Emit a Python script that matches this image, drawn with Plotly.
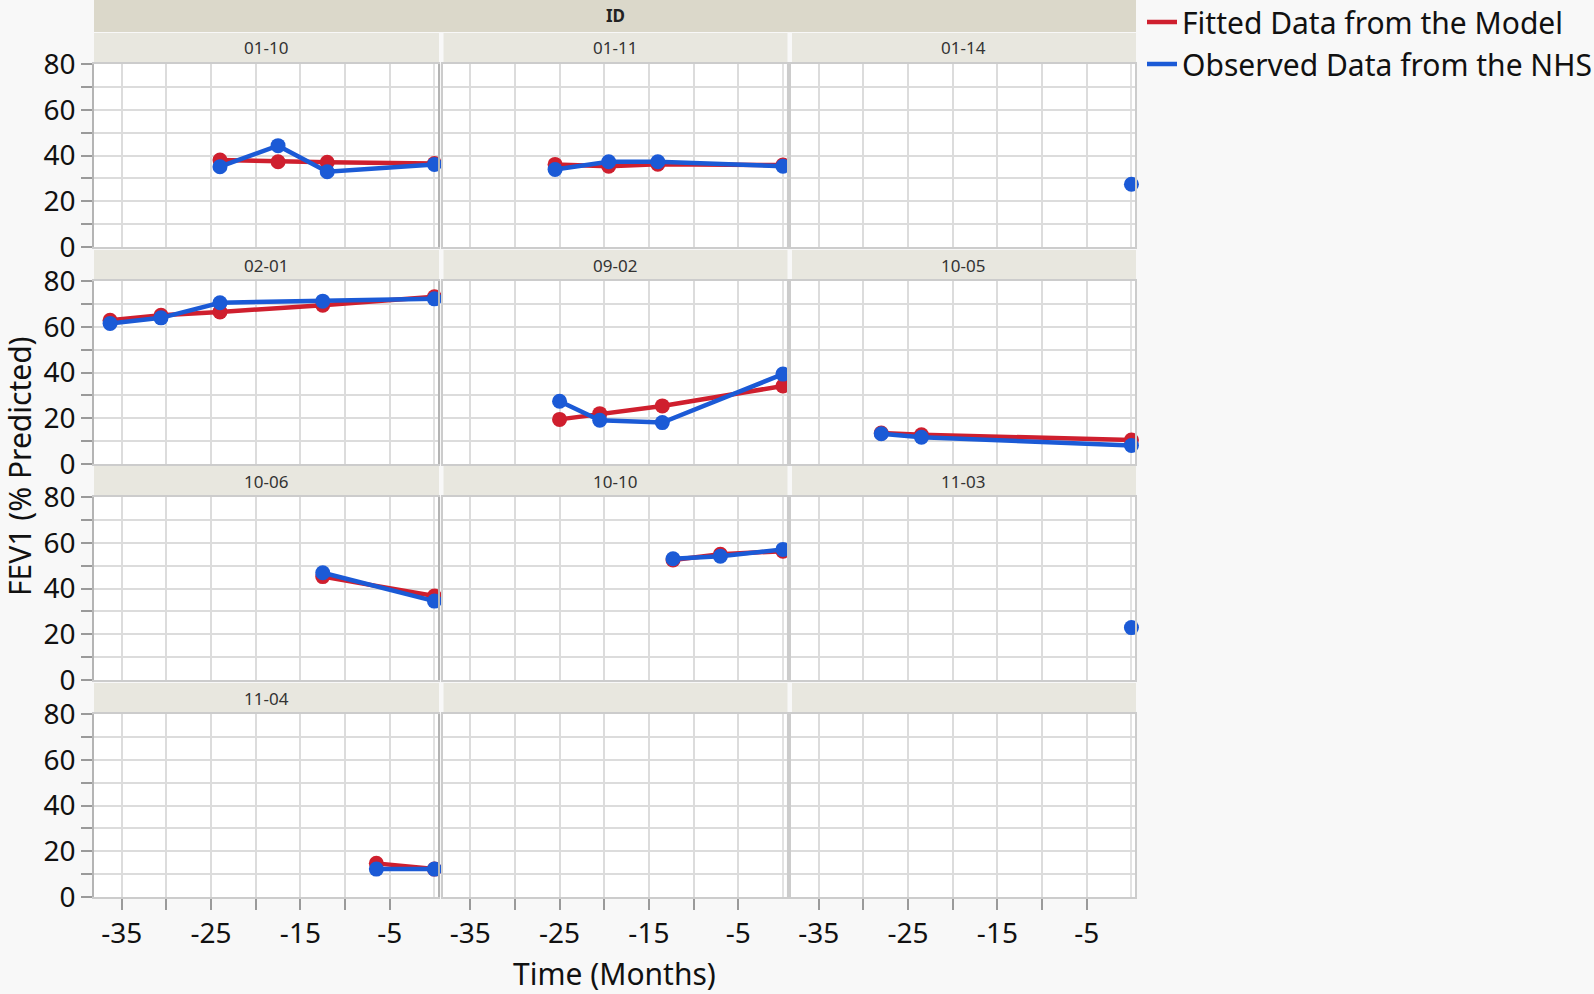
import plotly.graph_objects as go
from plotly.subplots import make_subplots

# ---------------- data ----------------
panel_ids = ["01-10", "01-11", "01-14", "02-01", "09-02", "10-05",
             "10-06", "10-10", "11-03", "11-04"]
times = [
    [-24, -17.5, -12, 0],
    [-25.5, -19.5, -14, 0],
    [0],
    [-36.3, -30.6, -24, -12.5, 0],
    [-25, -20.5, -13.5, 0],
    [-28, -23.5, 0],
    [-12.5, 0],
    [-12.3, -7, 0],
    [0],
    [-6.5, 0],
]
fitted = [
    [38.0, 37.3, 37.0, 36.5],
    [36.1, 35.3, 36.2, 35.8],
    [None],
    [62.8, 65.0, 66.5, 69.4, 73.1],
    [19.5, 22.0, 25.4, 34.1],
    [13.5, 12.8, 10.5],
    [45.2, 36.7],
    [52.5, 55.0, 56.3],
    [None],
    [14.7, 12.2],
]
observed = [
    [35.1, 44.3, 32.9, 36.1],
    [33.9, 37.3, 37.3, 35.3],
    [27.4],
    [61.4, 63.9, 70.5, 71.2, 72.2],
    [27.4, 19.1, 18.1, 39.3],
    [13.2, 11.7, 8.1],
    [46.9, 34.5],
    [53.0, 54.1, 57.1],
    [22.9],
    [12.2, 12.2],
]
x_tick_vals = [-35, -30, -25, -20, -15, -10, -5]
x_tick_text = ["-35", "", "-25", "", "-15", "", "-5"]
y_tick_vals = [0, 10, 20, 30, 40, 50, 60, 70, 80]
y_tick_text = ["0", "", "20", "", "40", "", "60", "", "80"]
series_names = ["Fitted Data from the Model", "Observed Data from the NHS"]

# ---------------- styling ----------------
W, H = 1594, 994
RED = "#cf1f2e"
BLUE = "#1b5ad6"
GRID = "#dcdcdc"
FONT = "Noto Sans"
col_px = [(94, 438), (442.5, 786.5), (791, 1135)]
row_px = [(64, 247), (281, 464), (497, 680), (714, 897)]


def px_x(p):
    return p / W


def px_y(p):
    return 1 - p / H


fig = make_subplots(rows=4, cols=3)

for i, pid in enumerate(panel_ids):
    r, c = i // 3 + 1, i % 3 + 1
    if any(v is not None for v in fitted[i]):
        fig.add_trace(go.Scatter(
            x=times[i], y=fitted[i], mode="lines+markers",
            line=dict(color=RED, width=4.5), marker=dict(color=RED, size=15),
            showlegend=False, cliponaxis=False, name=series_names[0]), row=r, col=c)
    fig.add_trace(go.Scatter(
        x=times[i], y=observed[i], mode="lines+markers",
        line=dict(color=BLUE, width=4.5), marker=dict(color=BLUE, size=15),
        showlegend=False, cliponaxis=False, name=series_names[1]), row=r, col=c)

# empty panels still get their axes drawn
for c in (2, 3):
    fig.add_trace(go.Scatter(x=[None], y=[None], mode="markers",
                             showlegend=False, hoverinfo="skip"), row=4, col=c)

# legend-only traces
for name, color in zip(series_names, [RED, BLUE]):
    fig.add_trace(go.Scatter(x=[None], y=[None], mode="lines",
                             line=dict(color=color, width=4.5), name=name,
                             showlegend=True), row=1, col=1)

shapes = []
annotations = []
for r in range(4):
    for c in range(3):
        idx = r * 3 + c + 1
        xa = "xaxis" if idx == 1 else f"xaxis{idx}"
        ya = "yaxis" if idx == 1 else f"yaxis{idx}"
        x0, x1 = col_px[c]
        y0, y1 = row_px[r]
        fig.layout[xa].update(
            domain=[px_x(x0), px_x(x1)], range=[-38.1, 0.4], automargin=False,
            tickmode="array", tickvals=x_tick_vals, ticktext=x_tick_text,
            showgrid=True, gridcolor=GRID, gridwidth=2, zeroline=False,
            showline=True, linecolor="#cccccc", linewidth=1.5, mirror=True,
            minor=dict(tickmode="array", tickvals=[0], showgrid=True,
                       gridcolor="#e2e2e2", gridwidth=1.5, ticks=""),
            ticks="outside" if r == 3 else "", ticklen=11, tickcolor="#9a9a9a",
            tickwidth=1.5, showticklabels=(r == 3),
            tickfont=dict(family=FONT, size=28, color="#111"),
        )
        fig.layout[ya].update(
            domain=[px_y(y1), px_y(y0)], range=[0, 80], automargin=False,
            tickmode="array", tickvals=y_tick_vals, ticktext=y_tick_text,
            showgrid=True, gridcolor=GRID, gridwidth=2, zeroline=False,
            showline=True, linecolor="#b4b4b4" if c == 0 else "#cccccc",
            linewidth=1.5, mirror=True,
            ticks="outside" if c == 0 else "", ticklen=11, tickcolor="#9a9a9a",
            tickwidth=1.5, showticklabels=(c == 0),
            tickfont=dict(family=FONT, size=28, color="#111"),
        )
        # strip above each panel
        sx0 = x0 + (0 if c == 0 else 1)
        shapes.append(dict(type="rect", xref="paper", yref="paper",
                           x0=px_x(sx0), x1=px_x(x1 + 1), y0=px_y(y0 - 1), y1=px_y(y0 - 31),
                           fillcolor="#e8e7df", line=dict(width=0), layer="below"))
        lab_i = r * 3 + c
        if lab_i < len(panel_ids):
            annotations.append(dict(
                text=panel_ids[lab_i], xref="paper", yref="paper",
                x=px_x((x0 + x1) / 2), y=px_y(y0 - 16), showarrow=False,
                xanchor="center", yanchor="middle",
                font=dict(family=FONT, size=17, color="#333")))

# top "ID" strip
shapes.append(dict(type="rect", xref="paper", yref="paper",
                   x0=px_x(94), x1=px_x(1136), y0=px_y(32), y1=px_y(0),
                   fillcolor="#dbd8ca", line=dict(width=0), layer="below"))
annotations.append(dict(text="<b>ID</b>", xref="paper", yref="paper",
                        x=px_x(615), y=px_y(16), showarrow=False,
                        xanchor="center", yanchor="middle",
                        font=dict(family=FONT, size=17, color="#222")))
# axis titles
annotations.append(dict(text="Time (Months)", xref="paper", yref="paper",
                        x=px_x(614), y=px_y(973), showarrow=False,
                        xanchor="center", yanchor="middle",
                        font=dict(family=FONT, size=30, color="#111")))
annotations.append(dict(text="FEV1 (% Predicted)", xref="paper", yref="paper",
                        x=px_x(19), y=px_y(466), showarrow=False, textangle=-90,
                        xanchor="center", yanchor="middle",
                        font=dict(family=FONT, size=30, color="#111")))

fig.update_layout(
    width=W, height=H,
    margin=dict(l=0, r=0, t=0, b=0, autoexpand=False),
    paper_bgcolor="#f8f8f8", plot_bgcolor="white",
    shapes=shapes, annotations=annotations,
    showlegend=True,
    legend=dict(x=px_x(1142), y=px_y(-4), xanchor="left", yanchor="top",
                bgcolor="rgba(0,0,0,0)", font=dict(family=FONT, size=30, color="#111"),
                itemwidth=30, tracegroupgap=0),
)

fig.write_html("out.html",
               config={"displayModeBar": False},
               post_script="document.body.style.margin='0px';"
                           "document.documentElement.style.overflow='hidden';")
